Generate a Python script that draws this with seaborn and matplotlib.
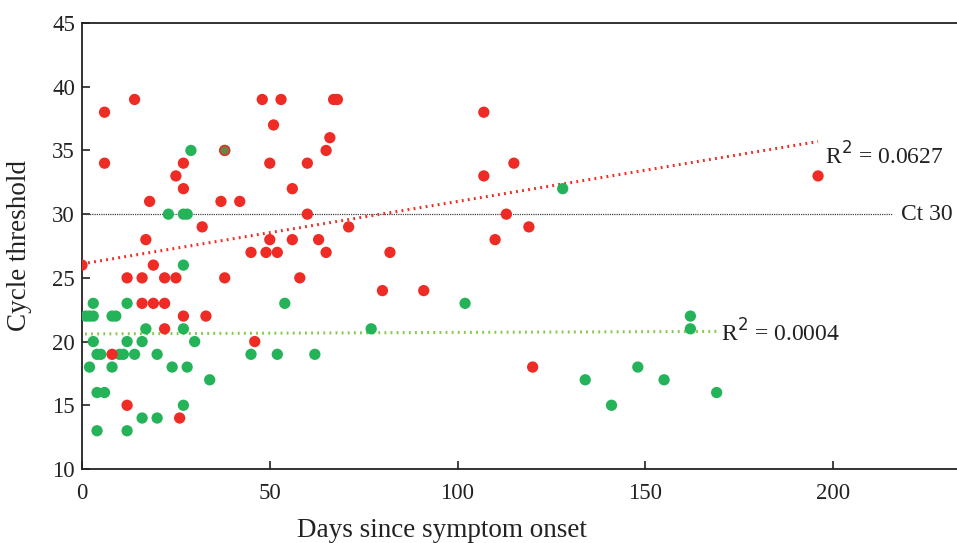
import matplotlib
matplotlib.use("Agg")
import matplotlib.pyplot as plt
import seaborn as sns
import numpy as np
import pandas as pd

# red group (days since onset, Ct)
red_days = [0, 6, 14, 6, 27, 25, 27, 18, 37, 42, 32, 17, 19, 38, 48, 53, 51, 50, 56, 60,
            60, 65, 66, 67, 68, 50, 45, 49, 52, 56, 63, 65, 58, 38, 12, 16, 22, 25, 16, 19,
            22, 27, 33, 22, 46, 8, 12, 26, 71, 82, 107, 115, 107, 113, 110, 119, 80, 91,
            120, 196]
red_ct = [26, 38, 39, 34, 34, 33, 32, 31, 31, 31, 29, 28, 26, 35, 39, 39, 37, 34, 32, 34,
          30, 35, 36, 39, 39, 28, 27, 27, 27, 28, 28, 27, 25, 25, 25, 25, 25, 25, 23, 23,
          23, 22, 22, 21, 20, 19, 15, 14, 29, 27, 38, 34, 33, 30, 28, 29, 24, 24,
          18, 33]

# green group
green_days = [29, 38, 23, 27, 28, 27, 3, 12, 1, 2, 3, 8, 9, 17, 27, 3, 12, 16, 30, 4,
              5, 10, 11, 14, 20, 45, 52, 62, 2, 8, 24, 28, 34, 4, 6, 27, 16, 20, 4, 12,
              128, 102, 77, 54, 134, 141, 162, 162, 148, 155, 169]
green_ct = [35, 35, 30, 30, 30, 26, 23, 23, 22, 22, 22, 22, 22, 21, 21, 20, 20, 20, 20, 19,
            19, 19, 19, 19, 19, 19, 19, 19, 18, 18, 18, 18, 17, 16, 16, 15, 14, 14, 13, 13,
            32, 23, 21, 23, 17, 15, 22, 21, 18, 17, 16]

# trend lines as drawn in the figure (ends)
red_fit_days = [0, 196]
red_fit_ct = [26.1, 35.7]
green_fit_days = [0.8, 169]
green_fit_ct = [20.6, 20.8]

red_r2 = "0.0627"
green_r2 = "0.0004"
ct_cutoff = 30

RED = "#ee2b24"
GREEN = "#25b35a"
GREEN_LINE = "#86c94a"
TEXT = "#222222"

red_df = pd.DataFrame({"days": red_days, "ct": red_ct})
green_df = pd.DataFrame({"days": green_days, "ct": green_ct})

sns.set_style("white")
plt.rcParams["font.family"] = ["Liberation Serif", "DejaVu Serif"]

fig = plt.figure(figsize=(9.57, 5.43), dpi=100)
ax = fig.add_axes([0.0857, 0.1363, 0.9143, 0.8213])

# Ct 30 reference line
ax.hlines(ct_cutoff, 0.8, 215.7, color="#444444", lw=0.9, ls=(0, (1, 0.8)), zorder=1)
ax.text(218, ct_cutoff, "Ct 30", fontsize=17, va="center", ha="left", color=TEXT)

# points
sns.scatterplot(data=green_df, x="days", y="ct", color=GREEN, s=66, edgecolor="none",
                ax=ax, zorder=3)
sns.scatterplot(data=red_df, x="days", y="ct", color=RED, s=66, edgecolor="none",
                ax=ax, zorder=4)
# green points sitting on top of a red one
both = green_df.merge(red_df, on=["days", "ct"])
sns.scatterplot(data=both, x="days", y="ct", color=GREEN, s=36, alpha=0.65,
                edgecolor="none", ax=ax, zorder=5)

# linear fits
sns.lineplot(x=red_fit_days, y=red_fit_ct, color=RED, lw=2.2, ls=(0, (0.6, 1.4)),
             ax=ax, zorder=2)
sns.lineplot(x=green_fit_days, y=green_fit_ct, color=GREEN_LINE, lw=2.2,
             ls=(0, (0.6, 1.4)), ax=ax, zorder=2)

ax.text(197.9, 34.6, "R$^2$ = " + red_r2, fontsize=17, va="center", ha="left", color=TEXT)
ax.text(170.2, 20.65, "R$^2$ = " + green_r2, fontsize=17, va="center", ha="left", color=TEXT)

ax.set_xlim(0, 233)
ax.set_ylim(10, 45)
ax.set_xticks([0, 50, 100, 150, 200])
ax.set_yticks([10, 15, 20, 25, 30, 35, 40, 45])
ax.tick_params(direction="in", length=6, width=1.2, labelsize=16.5, colors=TEXT,
               left=True, bottom=True)
ax.tick_params(axis="x", pad=10)
ax.tick_params(axis="y", pad=5)

ax.set_xlabel("Days since symptom onset", fontsize=19.5, color=TEXT, va="center")
ax.set_ylabel("Cycle threshold", fontsize=19.5, color=TEXT, va="center")
ax.xaxis.set_label_coords(0.411, -0.137)
ax.yaxis.set_label_coords(-0.071, 0.502)

for side in ["left", "bottom", "top"]:
    ax.spines[side].set_color(TEXT)
    ax.spines[side].set_linewidth(1.3)
ax.spines["right"].set_visible(False)

fig.savefig("out.png", dpi=100)
